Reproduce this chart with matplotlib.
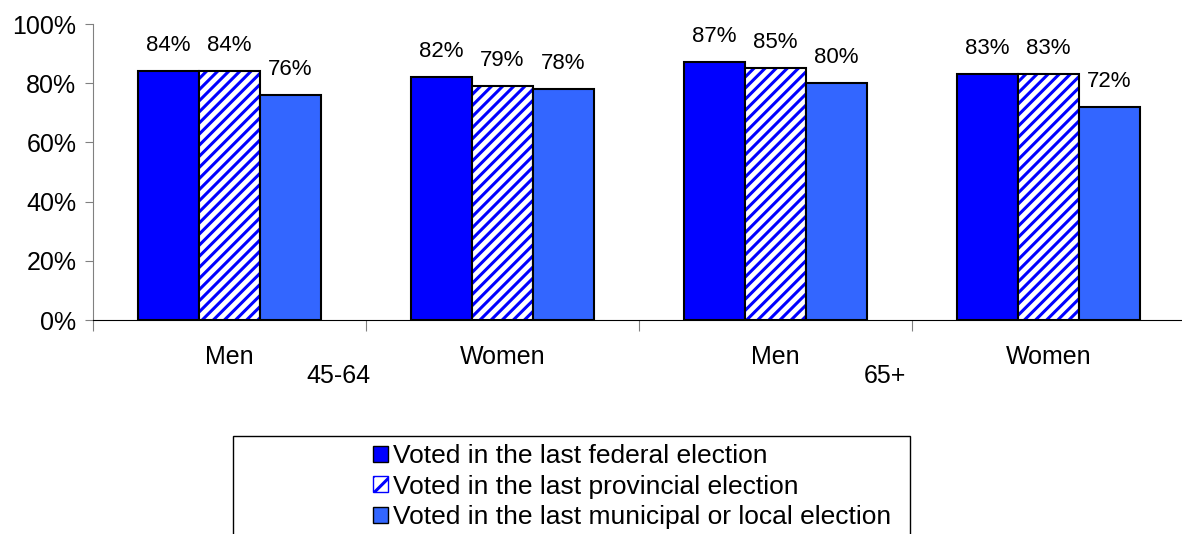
#!/usr/bin/env python3
"""Voting participation by age group and sex."""

import matplotlib.pyplot as plt
import numpy as np
from matplotlib.patches import Patch, Rectangle

plt.rcParams["font.family"] = ["Liberation Sans", "DejaVu Sans"]
plt.rcParams["hatch.linewidth"] = 2.2

sexes = ["Men", "Women", "Men", "Women"]
age_groups = ["45-64", "65+"]
series = [
    "Voted in the last federal election",
    "Voted in the last provincial election",
    "Voted in the last municipal or local election",
]
federal = [84, 82, 87, 83]
provincial = [84, 79, 85, 83]
municipal = [76, 78, 80, 72]

W, H = 1182, 534
fig = plt.figure(figsize=(W / 100, H / 100), dpi=100)
ax = fig.add_axes([93 / W, 1 - 320 / H, (1182 - 93) / W, 296 / H])

x = np.arange(len(sexes))
bw = 0.224
styles = [
    dict(color="#0000ff", edgecolor="black"),
    dict(color="white", edgecolor="#0000ff", hatch="///"),
    dict(color="#3366ff", edgecolor="black"),
]
values = [federal, provincial, municipal]
for i, (vals, st) in enumerate(zip(values, styles)):
    pos = x + (i - 1) * bw
    ax.bar(pos, vals, bw, color=st["color"], edgecolor=st["edgecolor"],
           hatch=st.get("hatch"), linewidth=0)
    # black outline on top of hatch
    ax.bar(pos, vals, bw, fill=False, edgecolor="black", linewidth=1.5)
    for p, v in zip(pos, vals):
        ax.annotate(f"{v}%", (p, v), xytext=(0, 11), textcoords="offset points",
                    ha="center", va="bottom", fontsize=16)

ax.set_xlim(-0.5, 3.49)
ax.set_ylim(0, 100)
ax.set_yticks(range(0, 101, 20))
ax.set_yticklabels([f"{t}%" for t in range(0, 101, 20)], fontsize=18)
ax.tick_params(axis="y", length=6, color="#808080", pad=6)

ax.set_xticks(np.arange(-0.5, 3.5, 1.0))
ax.set_xticklabels([])
ax.tick_params(axis="x", length=8, color="#808080", direction="out")
for xi, s in zip(x, sexes):
    ax.annotate(s, (xi, 0), xytext=(0, -18), textcoords="offset points",
                ha="center", va="top", fontsize=18, annotation_clip=False)
for xi, a in zip([0.4, 2.4], age_groups):
    ax.annotate(a, (xi, 0), xytext=(0, -32), textcoords="offset points",
                ha="center", va="top", fontsize=18, annotation_clip=False)

for side in ["top", "right"]:
    ax.spines[side].set_visible(False)
ax.spines["left"].set_color("#808080")
ax.spines["bottom"].set_color("black")

# legend box
fig.patches.append(Rectangle((233 / W, -0.05), (910 - 233) / W, 0.05 + 1 - 436 / H,
                             transform=fig.transFigure, fill=False,
                             edgecolor="black", linewidth=1))
handles = [
    Patch(facecolor="#0000ff", edgecolor="black"),
    Patch(facecolor="white", edgecolor="#0000ff", hatch="//"),
    Patch(facecolor="#3366ff", edgecolor="black"),
]
fig.legend(handles, series, loc="upper left",
           bbox_to_anchor=(373 / W, 1 - 444 / H), frameon=False,
           fontsize=19, handlelength=0.55, handleheight=0.55,
           handletextpad=0.2, labelspacing=0.25, borderpad=0,
           borderaxespad=0)

fig.savefig("out.png", dpi=100)
